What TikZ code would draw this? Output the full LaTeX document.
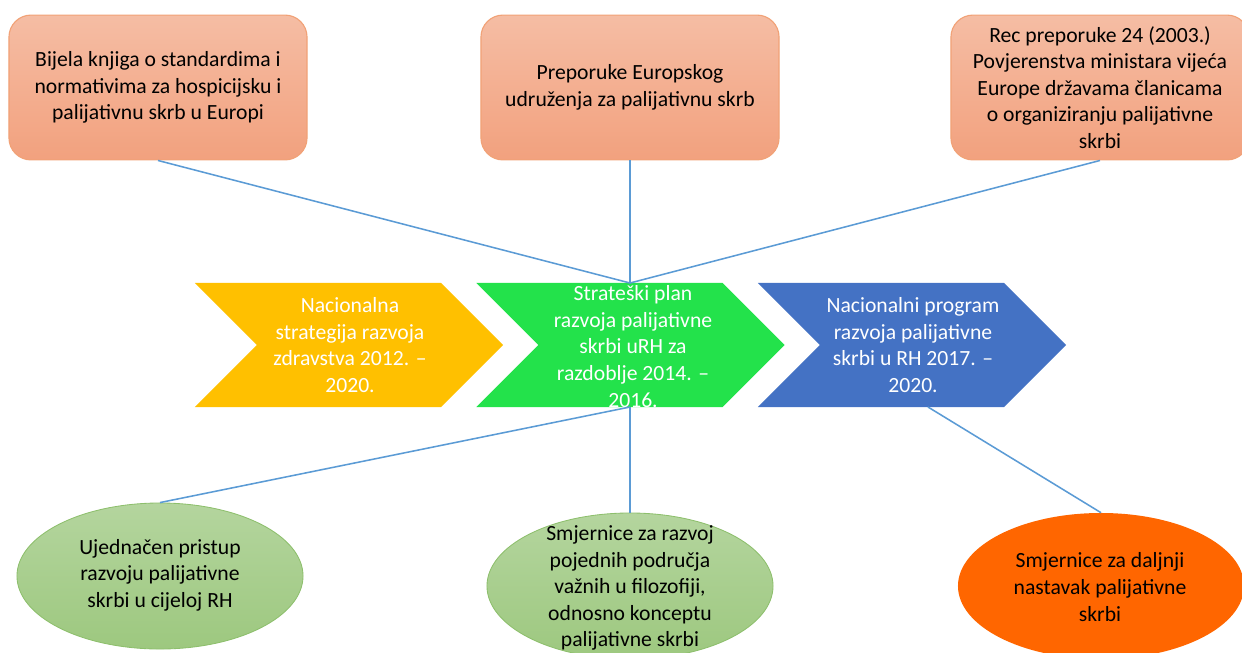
\documentclass[tikz,border=0pt]{standalone}
\usepackage{fontspec}
\setmainfont{Carlito}
\usetikzlibrary{shapes.geometric,shapes.symbols}

\definecolor{boxtop}{HTML}{F5BDA4}
\definecolor{boxbot}{HTML}{F2A17E}
\definecolor{boxline}{HTML}{F1A277}
\definecolor{elltop}{HTML}{B4D59E}
\definecolor{ellbot}{HTML}{9DC87F}
\definecolor{ellline}{HTML}{8DBF6C}
\definecolor{stageyellow}{HTML}{FFC000}
\definecolor{stagegreen}{HTML}{23E24B}
\definecolor{stageblue}{HTML}{4472C4}
\definecolor{goalorange}{HTML}{FF6600}
\definecolor{linkblue}{HTML}{5B9BD5}

\tikzset{
  txt/.style={font=\fontsize{15.4}{18.9}\selectfont, align=center},
  srcbox/.style={draw=boxline, line width=0.8pt, rounded corners=0.55cm, top color=boxtop, bottom color=boxbot,
    minimum width=7.45cm, minimum height=3.62cm, inner sep=0pt, txt},
  stage/.style={signal, signal from=west, signal to=east, minimum width=7.7cm, minimum height=3.1cm, inner sep=0pt},
  stagetext/.style={txt, text=white},
  goal/.style={ellipse, minimum width=7.15cm, minimum height=3.65cm, inner sep=0pt},
  greengoal/.style={goal, draw=ellline, line width=0.6pt, top color=elltop, bottom color=ellbot},
  link/.style={draw=linkblue, line width=1.1pt}
}

\begin{document}
\begin{tikzpicture}[x=0.025cm, y=-0.025cm]
\useasboundingbox (0,0) rectangle (1242,652);

% sources
\node[srcbox] (bijela) at (158,87.5) {Bijela knjiga o standardima i\\normativima za hospicijsku i\\palijativnu skrb u Europi};
\node[srcbox] (eapc) at (630,87.5) {Preporuke Europskog\\udruženja za palijativnu skrb};
\node[srcbox] (rec) at (1100,87.5) {Rec preporuke 24 (2003.)\\Povjerenstva ministara vijeća\\Europe državama članicama\\o organiziranju palijativne\\skrbi};

% stages
\node[stage, fill=stageyellow] (strategija) at (349,345) {};
\node[stage, fill=stagegreen] (plan) at (630.5,345) {};
\node[stage, fill=stageblue] (program) at (912,345) {};
\node[stagetext] (strategijatxt) at (350,345) {Nacionalna\\strategija razvoja\\zdravstva 2012. –\\2020.};
\node[stagetext] (plantxt) at (633,346.5) {Strateški plan\\razvoja palijativne\\skrbi uRH za\\razdoblje 2014. –\\2016.};
\node[stagetext] (programtxt) at (913,345) {Nacionalni program\\razvoja palijativne\\skrbi u RH 2017. –\\2020.};

% goals
\node[greengoal] (pristup) at (160,576) {};
\node[greengoal] (smjernice) at (630,586) {};
\node[goal, fill=goalorange] (nastavak) at (1101,586) {};
\node[txt] (pristuptxt) at (160,575) {Ujednačen pristup\\razvoju palijativne\\skrbi u cijeloj RH};
\node[txt] (smjernicetxt) at (630,588) {Smjernice za razvoj\\pojednih područja\\važnih u filozofiji,\\odnosno konceptu\\palijativne skrbi};
\node[txt] (nastavaktxt) at (1100,587) {Smjernice za daljnji\\nastavak palijativne\\skrbi};

% links
\coordinate (hubtop) at (630,283);
\coordinate (hubbot) at (630,407);
\coordinate (progbot) at (928,407);
\draw[link] (bijela.south) -- (hubtop);
\draw[link] (eapc.south) -- (hubtop);
\draw[link] (rec.south) -- (hubtop);
\draw[link] (hubbot) -- (pristup.north);
\draw[link] (hubbot) -- (smjernice.north);
\draw[link] (progbot) -- (nastavak.north);
\end{tikzpicture}
\end{document}
